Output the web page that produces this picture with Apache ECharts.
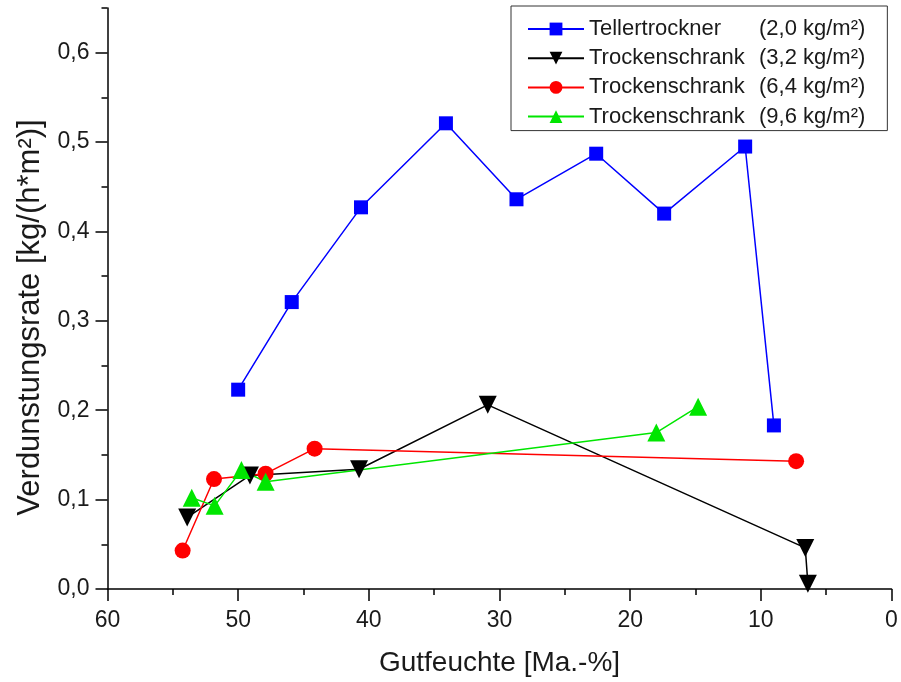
<!DOCTYPE html>
<html>
<head>
<meta charset="utf-8">
<script src="https://cdn.jsdelivr.net/npm/echarts@6/dist/echarts.min.js"></script>
<style>
  html, body { margin: 0; padding: 0; background: #fff; }
  #chart { width: 901px; height: 682px; }
</style>
</head>
<body>
<div id="chart"></div>
<script>
// Evaporation rate versus moisture content, four drying runs
const seriesNames = [
  'Tellertrockner (2,0 kg/m²)',
  'Trockenschrank (3,2 kg/m²)',
  'Trockenschrank (6,4 kg/m²)',
  'Trockenschrank (9,6 kg/m²)'
];

const tellerX = [50.0, 45.9, 40.6, 34.1, 28.7, 22.6, 17.4, 11.2, 9.0];
const tellerY = [0.223, 0.321, 0.427, 0.521, 0.436, 0.487, 0.420, 0.495, 0.183];

const schrank32X = [53.9, 49.1, 40.75, 30.9, 6.6, 6.4];
const schrank32Y = [0.080, 0.127, 0.134, 0.206, 0.046, 0.006];

const schrank64X = [54.25, 51.85, 47.9, 44.15, 7.3];
const schrank64Y = [0.043, 0.123, 0.129, 0.157, 0.143];

const schrank96X = [53.55, 51.8, 49.75, 47.9, 18.0, 14.8];
const schrank96Y = [0.102, 0.093, 0.133, 0.120, 0.175, 0.204];

const yTickValues = [0, 0.1, 0.2, 0.3, 0.4, 0.5, 0.6];
const xTickValues = [0, 10, 20, 30, 40, 50, 60];

const FONT = '"Liberation Sans", Arial, sans-serif';
const TEXT = '#1a1a1a';

function pairs(xs, ys) {
  return xs.map((x, i) => [x, ys[i]]);
}

const chart = echarts.init(document.getElementById('chart'), null, { renderer: 'canvas' });

const axisCommon = {
  axisLine: { show: true, onZero: false, lineStyle: { color: '#000', width: 1.5 } },
  axisTick: { show: true, inside: false, length: 12, lineStyle: { color: '#000', width: 1.5 } },
  minorTick: { show: true, splitNumber: 2, length: 6, lineStyle: { color: '#000', width: 1.5 } },
  splitLine: { show: false },
  minorSplitLine: { show: false }
};

function lineSeries(name, data, color, symbol, size, rotate) {
  return {
    name: name,
    type: 'line',
    data: data,
    symbol: symbol,
    symbolSize: size,
    symbolRotate: rotate || 0,
    showAllSymbol: true,
    lineStyle: { color: color, width: 1.5 },
    itemStyle: { color: color, borderWidth: 0 },
    emphasis: { disabled: true },
    animation: false,
    z: 3
  };
}

chart.setOption({
  backgroundColor: '#fff',
  animation: false,
  textStyle: { fontFamily: FONT },
  grid: { left: 107.5, right: 9.5, top: 8, bottom: 93, containLabel: false },
  legend: {
    show: true,
    orient: 'vertical',
    left: 511,
    top: 6,
    padding: [12, 22, 3, 16],
    itemGap: 7.2,
    itemWidth: 56,
    itemHeight: 16,
    borderColor: '#333',
    borderWidth: 1,
    backgroundColor: '#fff',
    symbolRotate: 'inherit',
    selectedMode: false,
    textStyle: {
      fontFamily: FONT,
      fontSize: 22,
      color: TEXT,
      rich: {
        a: { fontFamily: FONT, fontSize: 22, color: TEXT, width: 170, lineHeight: 24 },
        b: { fontFamily: FONT, fontSize: 22, color: TEXT, lineHeight: 24 }
      }
    },
    formatter: function (name) {
      const i = name.indexOf(' (');
      return '{a|' + name.slice(0, i) + '}{b|' + name.slice(i + 1) + '}';
    },
    data: seriesNames
  },
  xAxis: Object.assign({}, axisCommon, {
    type: 'value',
    inverse: true,
    min: 0,
    max: 60,
    interval: 10,
    name: 'Gutfeuchte [Ma.-%]',
    nameLocation: 'middle',
    nameGap: 60,
    nameTextStyle: { fontFamily: FONT, fontSize: 28, color: TEXT },
    axisLabel: {
      show: true,
      margin: 20,
      fontFamily: FONT,
      fontSize: 23,
      color: TEXT,
      customValues: xTickValues,
      formatter: function (v) { return String(Math.round(v)); }
    }
  }),
  yAxis: Object.assign({}, axisCommon, {
    type: 'value',
    min: 0,
    max: 0.65,
    interval: 0.1,
    name: 'Verdunstungsrate [kg/(h*m²)]',
    nameLocation: 'middle',
    nameGap: 62,
    nameRotate: 90,
    nameTextStyle: { fontFamily: FONT, fontSize: 31, color: TEXT, padding: [0, 38, 0, 0] },
    axisTick: { show: true, inside: false, length: 12, customValues: yTickValues, lineStyle: { color: '#000', width: 1.5 } },
    axisLabel: {
      show: true,
      margin: 18,
      fontFamily: FONT,
      fontSize: 23,
      color: TEXT,
      customValues: yTickValues,
      formatter: function (v) {
        if (Math.abs(v * 10 - Math.round(v * 10)) > 1e-6) return '';
        return v.toFixed(1).replace('.', ',');
      }
    }
  }),
  series: [
    lineSeries(seriesNames[0], pairs(tellerX, tellerY), '#0000ff', 'rect', 14),
    lineSeries(seriesNames[1], pairs(schrank32X, schrank32Y), '#000000', 'triangle', 18, 180),
    lineSeries(seriesNames[2], pairs(schrank64X, schrank64Y), '#ff0000', 'circle', 16),
    lineSeries(seriesNames[3], pairs(schrank96X, schrank96Y), '#00e600', 'triangle', 18)
  ]
});
</script>
</body>
</html>
